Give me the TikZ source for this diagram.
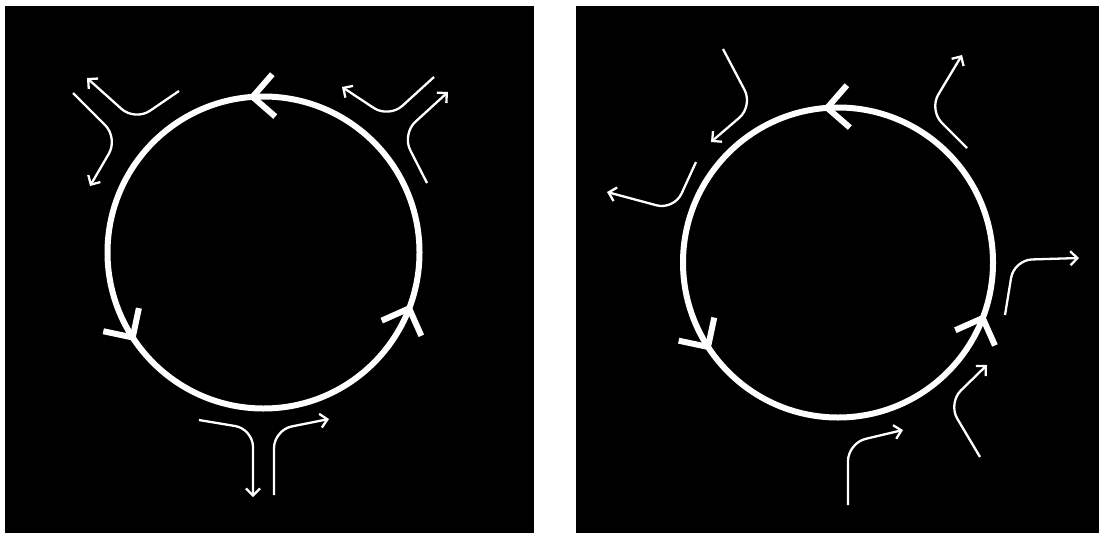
\documentclass[tikz,border=0pt]{standalone}
\usetikzlibrary{arrows.meta}
\begin{document}
\begin{tikzpicture}[x=1pt,y=-1pt,
  panel/.style={fill=black},
  ring/.style={circle,draw=white,line width=6pt,inner sep=0pt,outer sep=0pt},
  chev/.style={draw=white,line width=6pt,line cap=butt,line join=miter},
  flow/.style={draw=white,line width=2.3pt,rounded corners=18pt,
    -{Straight Barb[length=7pt,width=14pt]}}]
\useasboundingbox (0,0) rectangle (1099,533);
\fill[white] (0,0) rectangle (1099,533);
\fill[panel] (5,6) rectangle (534,533);
\fill[panel] (576,6) rectangle (1099,533);

% left panel
\node[ring,minimum size=312pt] (L) at (263.5,252.5) {};
\coordinate (Lt) at (L.94);
\coordinate (Ll) at (L.213);
\coordinate (Lr) at (L.339);
\draw[chev] ([shift={(-49:30)}]Lt) -- (Lt) -- ([shift={(41:30)}]Lt);
\draw[chev] ([shift={(-168:30)}]Ll) -- (Ll) -- ([shift={(-78:30)}]Ll);
\draw[chev] ([shift={(66:30)}]Lr) -- (Lr) -- ([shift={(156:30)}]Lr);

\draw[flow] (73,93) -- (118,138) -- (90,186);
\draw[flow] (179,91) -- (135,121) -- (87,78);
\draw[flow] (434,77) -- (389,118) -- (342,87);
\draw[flow] (427,183) -- (402,134) -- (448,92);
\draw[flow] (199,420) -- (253,429) -- (253,497);
\draw[flow] (274,495) -- (274,430) -- (329,419);

% right panel
\node[ring,minimum size=310pt] (R) at (838,262.5) {};
\coordinate (Rt) at (R.94);
\coordinate (Rl) at (R.213);
\coordinate (Rr) at (R.339);
\draw[chev] ([shift={(-49:30)}]Rt) -- (Rt) -- ([shift={(41:30)}]Rt);
\draw[chev] ([shift={(-168:30)}]Rl) -- (Rl) -- ([shift={(-78:30)}]Rl);
\draw[chev] ([shift={(66:30)}]Rr) -- (Rr) -- ([shift={(156:30)}]Rr);

\draw[flow] (723,49) -- (753,106) -- (711,142);
\draw[flow] (696,162) -- (674,210) -- (607,192);
\draw[flow] (967,148) -- (929,110) -- (962,55);
\draw[flow] (1005,315) -- (1014,260) -- (1079,258);
\draw[flow] (980,457) -- (948,403) -- (987,365);
\draw[flow] (848,505) -- (848,443) -- (903,430);
\end{tikzpicture}
\end{document}
